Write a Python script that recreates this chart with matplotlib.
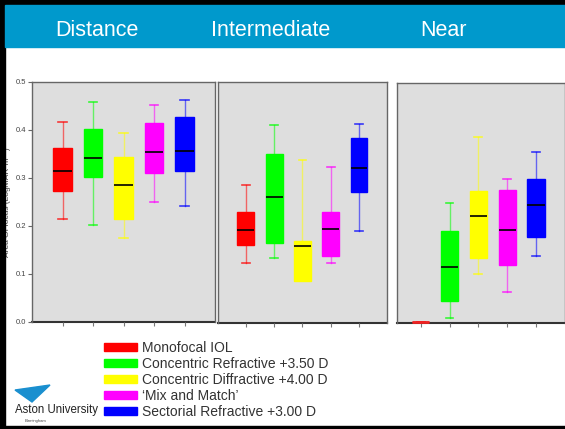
import matplotlib
matplotlib.use("Agg")
import matplotlib.pyplot as plt
from matplotlib.patches import Patch, Rectangle, Polygon

plt.rcParams['font.family'] = ['Liberation Sans', 'DejaVu Sans']

panels = ["Distance", "Intermediate", "Near"]
groups = ["Monofocal IOL", "Concentric Refractive +3.50 D",
          "Concentric Diffractive +4.00 D", "\u2018Mix and Match\u2019",
          "Sectorial Refractive +3.00 D"]
colors = ["#ff0000", "#00ff00", "#ffff00", "#ff00ff", "#0000ff"]

# box statistics per panel, one value per group
dist_lo  = [0.215, 0.203, 0.175, 0.250, 0.242]
dist_q1  = [0.272, 0.302, 0.214, 0.310, 0.315]
dist_med = [0.315, 0.342, 0.286, 0.355, 0.356]
dist_q3  = [0.362, 0.403, 0.343, 0.415, 0.428]
dist_hi  = [0.417, 0.458, 0.394, 0.453, 0.462]

inter_lo  = [0.124, 0.135, 0.088, 0.124, 0.191]
inter_q1  = [0.162, 0.165, 0.088, 0.140, 0.272]
inter_med = [0.193, 0.261, 0.159, 0.195, 0.322]
inter_q3  = [0.230, 0.350, 0.171, 0.230, 0.383]
inter_hi  = [0.286, 0.410, 0.338, 0.324, 0.412]

near_lo  = [0.003, 0.011, 0.103, 0.065, 0.140]
near_q1  = [0.003, 0.045, 0.135, 0.120, 0.180]
near_med = [0.003, 0.117, 0.223, 0.194, 0.246]
near_q3  = [0.003, 0.191, 0.274, 0.277, 0.301]
near_hi  = [0.003, 0.249, 0.388, 0.301, 0.356]

data = [(dist_lo, dist_q1, dist_med, dist_q3, dist_hi),
        (inter_lo, inter_q1, inter_med, inter_q3, inter_hi),
        (near_lo, near_q1, near_med, near_q3, near_hi)]

W, H = 565, 429
fig = plt.figure(figsize=(W / 100, H / 100), dpi=100)
fig.patch.set_facecolor("white")


def px(x0, y0, x1, y1):
    # pixel box -> figure fraction rect
    return [x0 / W, 1 - y1 / H, (x1 - x0) / W, (y1 - y0) / H]


# black frame and blue title bar
fig.patches.append(Rectangle((0, 0), 5 / W, 1, transform=fig.transFigure, color="black", zorder=0))
fig.patches.append(Rectangle((0, 1 - 5 / H), 1, 5 / H, transform=fig.transFigure, color="black", zorder=0))
fig.patches.append(Rectangle((0, 0), 1, 3 / H, transform=fig.transFigure, color="black", zorder=0))
fig.patches.append(Rectangle((5 / W, 1 - 47 / H), 1, 42 / H, transform=fig.transFigure,
                             color="#0099cc", zorder=0))

title_x = [97, 271, 443]
for t, xx in zip(panels, title_x):
    fig.text(xx / W, 1 - 31 / H, t, color="white", fontsize=15.5, ha="center", va="center")

rects = [px(32, 82, 215, 322), px(217.5, 82, 387.3, 323), px(396.7, 83, 565, 323)]
xlims = [(0, 6), (0, 6), (0.17, 6.0)]

for i in range(3):
    ax = fig.add_axes(rects[i])
    ax.set_facecolor("#dedede")
    lo, q1, med, q3, hi = data[i]
    stats = [dict(whislo=lo[k], q1=q1[k], med=med[k], q3=q3[k], whishi=hi[k], fliers=[])
             for k in range(5)]
    b = ax.bxp(stats, positions=[1, 2, 3, 4, 5], widths=0.6, capwidths=0.27,
               patch_artist=True, showfliers=False)
    for k in range(5):
        b["boxes"][k].set_facecolor(colors[k])
        b["boxes"][k].set_edgecolor(colors[k])
        b["boxes"][k].set_linewidth(1)
        b["medians"][k].set_color("black")
        b["medians"][k].set_linewidth(1.2)
        for w in b["whiskers"][2 * k:2 * k + 2]:
            w.set_color(colors[k])
            w.set_alpha(0.55)
            w.set_linewidth(1)
        for c in b["caps"][2 * k:2 * k + 2]:
            c.set_color(colors[k])
            c.set_alpha(0.75)
            c.set_linewidth(1.2)
    if i == 2:
        # monofocal at near: all values ~0, drawn as a flat red bar
        b["medians"][0].set_color("#ee2222")
        b["medians"][0].set_linewidth(2)
        b["medians"][0].set_zorder(5)
        b["medians"][0].set_clip_on(False)
    ax.set_xlim(*xlims[i])
    ax.set_ylim(0, 0.5)
    ax.set_xticks([1, 2, 3, 4, 5])
    ax.tick_params(axis="x", direction="out", length=3, color="#777777")
    for s in ["top", "left", "right"]:
        ax.spines[s].set_color("#666666")
        ax.spines[s].set_linewidth(1)
    ax.spines["bottom"].set_color("#333333")
    ax.spines["bottom"].set_linewidth(1.5)
    ax.spines["bottom"].set_zorder(1)
    if i == 0:
        ax.set_yticks([0.0, 0.1, 0.2, 0.3, 0.4, 0.5])
        ax.set_yticklabels(["0.0", "0.1", "0.2", "0.3", "0.4", "0.5"])
        ax.tick_params(axis="y", direction="out", length=3, labelsize=5.5,
                       labelcolor="#444444", color="#666666", pad=1.5)
        ax.set_ylabel("Area Of focus (LogMAR*m\u207b\u00b9)", fontsize=6, color="#444444")
        ax.yaxis.set_label_coords(-0.115, 0.5)
    else:
        ax.set_yticks([])
    ax.set_xticklabels([""] * 5)

handles = [Patch(facecolor=c, edgecolor=c) for c in colors]
fig.legend(handles, groups, loc="upper left", bbox_to_anchor=(104 / W, 1 - 341 / H),
           frameon=False, fontsize=10, handlelength=2.4, handleheight=0.55,
           handletextpad=0.3, labelspacing=0.14, borderpad=0, borderaxespad=0,
           labelcolor="#333333")

# logo
fig.patches.append(Polygon([(15 / W, 1 - 390 / H), (50 / W, 1 - 385 / H), (32 / W, 1 - 402 / H)],
                           closed=True, transform=fig.transFigure, color="#1a8fcf"))
fig.text(15 / W, 1 - 410 / H, "Aston University", fontsize=8.3, color="#222222", va="center")
fig.text(25 / W, 1 - 421 / H, "Birmingham", fontsize=3, color="#444444", va="center")

fig.savefig("out.png", dpi=100)
